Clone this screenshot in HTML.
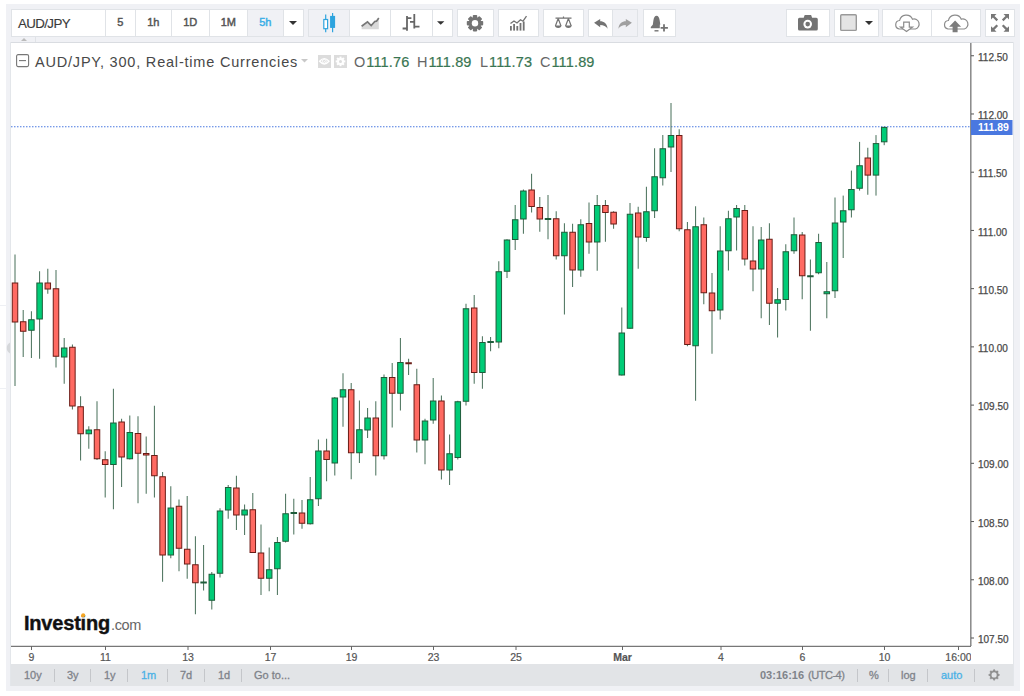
<!DOCTYPE html>
<html><head><meta charset="utf-8">
<style>
html,body{margin:0;padding:0;width:1024px;height:696px;overflow:hidden;background:#fff;font-family:"Liberation Sans",sans-serif;}
.a{position:absolute;}
#wrap{left:6px;top:4px;width:1014px;height:687px;background:#f0f1f5;}
.tb{top:9px;height:28px;background:#fff;border:1px solid #e0e3e7;box-sizing:border-box;}
.sep{top:10px;width:1px;height:26px;background:#e0e3e7;}
.on{background:#f0f1f5;}
.tt{top:8px;height:28px;line-height:28px;font-size:11px;font-weight:normal;color:#555;text-align:center;letter-spacing:-0.1px;padding-left:0.5px;box-sizing:border-box;-webkit-text-stroke:0.45px currentColor;}
#chart{left:11px;top:43px;width:1002px;height:621px;background:#fff;}
#bbar{left:11px;top:664px;width:1002px;height:22px;background:#e2e4e7;}
.bt{top:664px;height:22px;line-height:22px;font-size:11px;color:#7f838a;-webkit-text-stroke:0.3px #7f838a;}
.bs{top:669px;width:1px;height:13px;background:#c4c6ca;}
svg text.pl{font-family:"Liberation Sans",sans-serif;font-size:10px;fill:#4a4a4a;stroke:#4a4a4a;stroke-width:0.25px;}
svg text.tl{font-family:"Liberation Sans",sans-serif;font-size:10.5px;fill:#555;stroke:#555;stroke-width:0.2px;}
.lg{top:52.5px;height:18px;line-height:18px;font-size:14.5px;color:#666;white-space:nowrap;-webkit-text-stroke:0;}
.lv{color:#387552;margin-left:1px;letter-spacing:0.15px;-webkit-text-stroke:0.2px #387552;}
</style></head><body>
<div id="wrap" class="a"></div>
<div class="a" style="left:0;top:305px;width:6px;height:1px;background:#eef0f4;"></div>
<div class="a" style="left:0;top:388px;width:6px;height:1px;background:#eef0f4;"></div>
<svg class="a" style="left:6px;top:342px" width="5" height="12"><path d="M4 0.5C1.5 2 0.8 4 0.8 6S1.5 10 4 11.5z" fill="#d5d7da"/></svg>
<!-- toolbar group 1 -->
<div class="a tb" style="left:11px;width:293px;"></div>
<div class="a on" style="left:247px;top:10px;width:36px;height:26px;"></div>
<div class="a sep" style="left:105px"></div>
<div class="a sep" style="left:135px"></div>
<div class="a sep" style="left:171px"></div>
<div class="a sep" style="left:209px"></div>
<div class="a sep" style="left:247px"></div>
<div class="a sep" style="left:283px"></div>
<div class="a tt" style="left:11px;top:9.5px;width:94px;text-align:left;padding-left:7px;font-size:13.3px;font-weight:normal;letter-spacing:-0.6px;color:#3a3a3a;-webkit-text-stroke:0.15px #3a3a3a;">AUD/JPY</div>
<div class="a tt" style="left:105px;width:30px;">5</div>
<div class="a tt" style="left:135px;width:36px;">1h</div>
<div class="a tt" style="left:171px;width:38px;">1D</div>
<div class="a tt" style="left:209px;width:38px;">1M</div>
<div class="a tt" style="left:247px;width:36px;color:#3aaee6;">5h</div>
<svg class="a" style="left:283px;top:9px" width="20" height="28"><path d="M6 12h8l-4 4z" fill="#333"/></svg>
<!-- group 2 -->
<div class="a tb" style="left:308px;width:145px;"></div>
<div class="a on" style="left:309px;top:10px;width:40px;height:26px;"></div>
<div class="a sep" style="left:349px"></div>
<div class="a sep" style="left:390px"></div>
<div class="a sep" style="left:432px"></div>
<svg class="a" style="left:308px;top:9px" width="41" height="28">
 <g stroke="#2ea4de" fill="none" stroke-width="1.2">
  <line x1="17.7" y1="5.6" x2="17.7" y2="23.2"/><rect x="15.8" y="10.5" width="3.8" height="9.2" fill="#fff"/>
  <line x1="24.6" y1="4.1" x2="24.6" y2="23.2"/><rect x="22.7" y="7.5" width="3.8" height="10.8" fill="#2ea4de"/>
 </g></svg>
<svg class="a" style="left:349px;top:9px" width="41" height="28">
 <path d="M12.6 17.3L18.5 12.9L22.2 16.6L25.8 12.5L27.5 12.2L29.8 9V20.2H12.6z" fill="#d9d9d9"/>
 <path d="M12.6 17.3L18.5 12.9L22.2 16.6L25.8 12.5L27.5 12.2L29.8 9" fill="none" stroke="#777" stroke-width="1.7"/>
</svg>
<svg class="a" style="left:390px;top:9px" width="42" height="28">
 <g stroke="#666" stroke-width="1.8" fill="none">
  <path d="M17 7v14.7M12.6 19.5h4.4M17 9.2h4.4"/>
  <path d="M24.3 5.1v14.4M20 12.9h4.3M24.3 17.7h5.2"/>
 </g></svg>
<svg class="a" style="left:432px;top:9px" width="20" height="28"><path d="M5 12.2h7.4l-3.7 3.6z" fill="#333"/></svg>
<!-- gear -->
<div class="a tb" style="left:457px;width:37px;"></div>
<svg class="a" style="left:457px;top:9px" width="37" height="28">
 <g transform="translate(18,14.2)" fill="#737373">
  <circle r="6.2"/>
  <rect x="-2.2" y="-8.2" width="4.4" height="16.4" rx="0.8"/><rect x="-8.2" y="-2.2" width="16.4" height="4.4" rx="0.8"/>
  <rect x="-2.2" y="-8.2" width="4.4" height="16.4" rx="0.8" transform="rotate(45)"/><rect x="-8.2" y="-2.2" width="16.4" height="4.4" rx="0.8" transform="rotate(45)"/>
  <circle r="3.2" fill="#fff"/>
 </g></svg>
<!-- indicators -->
<div class="a tb" style="left:498px;width:41px;"></div>
<svg class="a" style="left:498px;top:9px" width="41" height="28">
 <g fill="#737373"><rect x="12" y="17" width="1.8" height="4.6"/><rect x="15.2" y="15" width="1.8" height="6.6"/><rect x="18.4" y="17" width="1.8" height="4.6"/><rect x="21.6" y="14" width="1.8" height="7.6"/><rect x="24.8" y="12.5" width="1.8" height="9.1"/></g>
 <path d="M12.5 14.5l3.5-2.5 3 2 3.5-3.3 2.5 1.5 3.5-5" fill="none" stroke="#737373" stroke-width="1.3"/>
</svg>
<!-- scales -->
<div class="a tb" style="left:543px;width:41px;"></div>
<svg class="a" style="left:543px;top:9px" width="41" height="28">
 <g fill="none" stroke="#737373" stroke-width="1.2">
  <path d="M12.5 9.2h16M20.5 7.6v1.6"/>
  <path d="M15.2 9.5l-2.8 7.5M15.2 9.5l2.8 7.5M25.4 9.5l-2.8 7.5M25.4 9.5l2.8 7.5"/>
 </g>
 <path d="M12 16.6h6.4a3.2 2.4 0 0 1-6.4 0zM22.2 16.6h6.4a3.2 2.4 0 0 1-6.4 0z" fill="#737373"/>
</svg>
<!-- undo redo -->
<div class="a tb" style="left:588px;width:50px;"></div>
<div class="a on" style="left:612px;top:10px;width:25px;height:26px;"></div>
<div class="a sep" style="left:612px"></div>
<svg class="a" style="left:588px;top:9px" width="50" height="28">
 <path d="M6.1 13.7L12.2 10V12.3C16 12.3 19 14.5 19.6 19.7C18 17.3 15.5 16.2 12.2 16.1V18.3z" fill="#737373"/>
 <path d="M43.9 13.7L37.8 10V12.3C34 12.3 31 14.5 30.4 19.7C32 17.3 34.5 16.2 37.8 16.1V18.3z" fill="#a0a0a0"/>
</svg>
<!-- alert -->
<div class="a tb" style="left:643px;width:33px;"></div>
<svg class="a" style="left:643px;top:9px" width="33" height="28">
 <path d="M13.6 6.8C15.2 6.8 16.3 8.8 16.7 11.5L17.3 15.8L19.3 18.1V19.2H7.8V18.1L9.8 15.8L10.4 11.5C10.8 8.8 11.9 6.8 13.6 6.8z" fill="#737373"/>
 <path d="M11.5 21.8h4" stroke="#737373" stroke-width="1.4"/>
 <rect x="16.8" y="15.6" width="8.5" height="7" fill="#fff"/>
 <path d="M21 15.3v7.2M17.6 18.8h7.3" stroke="#737373" stroke-width="1.8"/>
</svg>
<!-- camera -->
<div class="a tb" style="left:786px;width:44px;"></div>
<svg class="a" style="left:786px;top:9px" width="44" height="28">
 <path d="M13.5 8.8h4.2l1-2.8h6.4l1 2.8h4.2a1.5 1.5 0 0 1 1.5 1.5v9.7a1.5 1.5 0 0 1-1.5 1.5H13.5a1.5 1.5 0 0 1-1.5-1.5v-9.7a1.5 1.5 0 0 1 1.5-1.5z" fill="#737373"/>
 <circle cx="21.7" cy="15.1" r="4.3" fill="#fff"/><circle cx="21.7" cy="15.1" r="2.3" fill="#737373"/>
</svg>
<!-- layout -->
<div class="a tb" style="left:834px;width:45px;"></div>
<svg class="a" style="left:834px;top:9px" width="45" height="28">
 <rect x="6.7" y="5.8" width="15.6" height="15.6" rx="1" fill="#e4e4e4" stroke="#999" stroke-width="1.4"/>
 <path d="M31 12h8l-4 4z" fill="#333"/>
</svg>
<!-- clouds -->
<div class="a tb" style="left:882px;width:99px;"></div>
<div class="a sep" style="left:931px"></div>
<svg class="a" style="left:882px;top:9px" width="99" height="28">
 <g fill="#fff" stroke="#8c8c8c" stroke-width="1.2">
  <path d="M18 20H17.2A4.3 4.3 0 0 1 17.6 11.5A6.8 6.8 0 0 1 30.5 10.2A4.4 4.4 0 0 1 33.5 20H32Z"/>
  <path d="M21.7 13.2h5.6v5h3.2l-6 4.4-6-4.4h3.2z"/>
  <path d="M66.5 20H66A4.3 4.3 0 0 1 66.4 11.5A6.8 6.8 0 0 1 79.3 10.2A4.4 4.4 0 0 1 82.3 20H81Z"/>
 </g>
 <path d="M70.6 23.3v-5.5h-3.5l6-6.2 6 6.2h-3.5v5.5z" fill="#7c7c7c"/>
</svg>
<!-- fullscreen -->
<div class="a tb" style="left:985px;width:30px;"></div>
<svg class="a" style="left:985px;top:9px" width="30" height="28">
 <g fill="#777">
  <path d="M6 5h5.5l-2 2 3.6 3.6-1.6 1.6-3.6-3.6-1.9 1.9z"/>
  <path d="M24 5h-5.5l2 2-3.6 3.6 1.6 1.6 3.6-3.6 1.9 1.9z"/>
  <path d="M6 22.7h5.5l-2-2 3.6-3.6-1.6-1.6-3.6 3.6-1.9-1.9z"/>
  <path d="M24 22.7h-5.5l2-2-3.6-3.6 1.6-1.6 3.6 3.6 1.9-1.9z"/>
 </g></svg>
<!-- strip -->
<div class="a" style="left:11px;top:42px;width:1002px;height:1px;background:#d9dce1;"></div>
<div class="a" style="left:35px;top:37px;width:1px;height:5px;background:#e0e3e7;"></div>
<svg class="a" style="left:20px;top:37px" width="8" height="5"><path d="M1 4h6L4 1z" fill="#bbb"/></svg>
<!-- chart -->
<div id="chart" class="a"></div>
<div class="a" style="left:10px;top:42px;width:1px;height:644px;background:#e3e6ea;"></div>
<div class="a" style="left:1013px;top:42px;width:1px;height:644px;background:#e3e6ea;"></div>
<svg class="a" style="left:0;top:0" width="1024" height="696">
 <line x1="11" y1="126.75" x2="971" y2="126.75" stroke="#4a78e0" stroke-width="1" stroke-dasharray="1.5 1.5"/>
<line x1="15.00" y1="254.50" x2="15.00" y2="386.00" stroke="#466e58" stroke-width="1"/>
<rect x="12.25" y="283.00" width="5.50" height="39.00" fill="#ff6a62" stroke="#6a1c16" stroke-width="1"/>
<line x1="23.20" y1="310.00" x2="23.20" y2="357.00" stroke="#466e58" stroke-width="1"/>
<rect x="20.45" y="321.75" width="5.50" height="9.50" fill="#ff6a62" stroke="#6a1c16" stroke-width="1"/>
<line x1="31.40" y1="311.25" x2="31.40" y2="358.00" stroke="#466e58" stroke-width="1"/>
<rect x="28.65" y="319.75" width="5.50" height="10.50" fill="#00cc77" stroke="#1e5c3a" stroke-width="1"/>
<line x1="39.60" y1="271.25" x2="39.60" y2="358.75" stroke="#466e58" stroke-width="1"/>
<rect x="36.85" y="283.00" width="5.50" height="36.00" fill="#00cc77" stroke="#1e5c3a" stroke-width="1"/>
<line x1="47.80" y1="268.75" x2="47.80" y2="293.75" stroke="#466e58" stroke-width="1"/>
<rect x="45.05" y="283.00" width="5.50" height="6.00" fill="#ff6a62" stroke="#6a1c16" stroke-width="1"/>
<line x1="56.00" y1="270.00" x2="56.00" y2="367.50" stroke="#466e58" stroke-width="1"/>
<rect x="53.25" y="288.75" width="5.50" height="67.50" fill="#ff6a62" stroke="#6a1c16" stroke-width="1"/>
<line x1="64.20" y1="338.00" x2="64.20" y2="383.75" stroke="#466e58" stroke-width="1"/>
<rect x="61.45" y="348.00" width="5.50" height="9.00" fill="#00cc77" stroke="#1e5c3a" stroke-width="1"/>
<line x1="72.40" y1="344.50" x2="72.40" y2="409.50" stroke="#466e58" stroke-width="1"/>
<rect x="69.65" y="347.25" width="5.50" height="58.75" fill="#ff6a62" stroke="#6a1c16" stroke-width="1"/>
<line x1="80.60" y1="396.25" x2="80.60" y2="460.50" stroke="#466e58" stroke-width="1"/>
<rect x="77.85" y="406.75" width="5.50" height="27.00" fill="#ff6a62" stroke="#6a1c16" stroke-width="1"/>
<line x1="88.80" y1="426.25" x2="88.80" y2="448.75" stroke="#466e58" stroke-width="1"/>
<rect x="86.05" y="430.00" width="5.50" height="3.75" fill="#00cc77" stroke="#1e5c3a" stroke-width="1"/>
<line x1="97.00" y1="401.25" x2="97.00" y2="460.00" stroke="#466e58" stroke-width="1"/>
<rect x="94.25" y="429.75" width="5.50" height="29.00" fill="#ff6a62" stroke="#6a1c16" stroke-width="1"/>
<line x1="105.20" y1="451.25" x2="105.20" y2="497.50" stroke="#466e58" stroke-width="1"/>
<rect x="102.45" y="459.75" width="5.50" height="4.75" fill="#ff6a62" stroke="#6a1c16" stroke-width="1"/>
<line x1="113.40" y1="388.75" x2="113.40" y2="509.25" stroke="#466e58" stroke-width="1"/>
<rect x="110.65" y="423.00" width="5.50" height="41.50" fill="#00cc77" stroke="#1e5c3a" stroke-width="1"/>
<line x1="121.60" y1="418.75" x2="121.60" y2="487.00" stroke="#466e58" stroke-width="1"/>
<rect x="118.85" y="422.00" width="5.50" height="35.00" fill="#ff6a62" stroke="#6a1c16" stroke-width="1"/>
<line x1="129.80" y1="415.50" x2="129.80" y2="459.50" stroke="#466e58" stroke-width="1"/>
<rect x="127.05" y="432.50" width="5.50" height="26.25" fill="#00cc77" stroke="#1e5c3a" stroke-width="1"/>
<line x1="138.00" y1="416.25" x2="138.00" y2="503.25" stroke="#466e58" stroke-width="1"/>
<rect x="135.25" y="433.50" width="5.50" height="19.75" fill="#ff6a62" stroke="#6a1c16" stroke-width="1"/>
<line x1="146.20" y1="436.50" x2="146.20" y2="493.75" stroke="#466e58" stroke-width="1"/>
<rect x="143.45" y="453.50" width="5.50" height="1.50" fill="#ff6a62" stroke="#6a1c16" stroke-width="1"/>
<line x1="154.40" y1="405.75" x2="154.40" y2="497.50" stroke="#466e58" stroke-width="1"/>
<rect x="151.65" y="455.50" width="5.50" height="20.25" fill="#ff6a62" stroke="#6a1c16" stroke-width="1"/>
<line x1="162.60" y1="472.00" x2="162.60" y2="581.75" stroke="#466e58" stroke-width="1"/>
<rect x="159.85" y="476.75" width="5.50" height="78.25" fill="#ff6a62" stroke="#6a1c16" stroke-width="1"/>
<line x1="170.80" y1="486.25" x2="170.80" y2="558.25" stroke="#466e58" stroke-width="1"/>
<rect x="168.05" y="508.00" width="5.50" height="47.00" fill="#00cc77" stroke="#1e5c3a" stroke-width="1"/>
<line x1="179.00" y1="499.50" x2="179.00" y2="571.25" stroke="#466e58" stroke-width="1"/>
<rect x="176.25" y="506.25" width="5.50" height="42.00" fill="#ff6a62" stroke="#6a1c16" stroke-width="1"/>
<line x1="187.20" y1="496.00" x2="187.20" y2="578.75" stroke="#466e58" stroke-width="1"/>
<rect x="184.45" y="549.25" width="5.50" height="14.75" fill="#ff6a62" stroke="#6a1c16" stroke-width="1"/>
<line x1="195.40" y1="536.25" x2="195.40" y2="614.25" stroke="#466e58" stroke-width="1"/>
<rect x="192.65" y="564.75" width="5.50" height="18.00" fill="#ff6a62" stroke="#6a1c16" stroke-width="1"/>
<line x1="203.60" y1="545.00" x2="203.60" y2="590.50" stroke="#466e58" stroke-width="1"/>
<line x1="200.35" y1="582.50" x2="206.85" y2="582.50" stroke="#1e5c3a" stroke-width="2"/>
<line x1="211.80" y1="572.00" x2="211.80" y2="609.50" stroke="#466e58" stroke-width="1"/>
<rect x="209.05" y="574.25" width="5.50" height="26.00" fill="#00cc77" stroke="#1e5c3a" stroke-width="1"/>
<line x1="220.00" y1="508.25" x2="220.00" y2="577.50" stroke="#466e58" stroke-width="1"/>
<rect x="217.25" y="511.00" width="5.50" height="62.25" fill="#00cc77" stroke="#1e5c3a" stroke-width="1"/>
<line x1="228.20" y1="485.00" x2="228.20" y2="518.75" stroke="#466e58" stroke-width="1"/>
<rect x="225.45" y="487.50" width="5.50" height="22.50" fill="#00cc77" stroke="#1e5c3a" stroke-width="1"/>
<line x1="236.40" y1="475.75" x2="236.40" y2="530.00" stroke="#466e58" stroke-width="1"/>
<rect x="233.65" y="488.00" width="5.50" height="27.00" fill="#ff6a62" stroke="#6a1c16" stroke-width="1"/>
<line x1="244.60" y1="504.50" x2="244.60" y2="535.00" stroke="#466e58" stroke-width="1"/>
<rect x="241.85" y="510.00" width="5.50" height="5.00" fill="#00cc77" stroke="#1e5c3a" stroke-width="1"/>
<line x1="252.80" y1="493.00" x2="252.80" y2="553.00" stroke="#466e58" stroke-width="1"/>
<rect x="250.05" y="509.75" width="5.50" height="42.75" fill="#ff6a62" stroke="#6a1c16" stroke-width="1"/>
<line x1="261.00" y1="524.50" x2="261.00" y2="595.00" stroke="#466e58" stroke-width="1"/>
<rect x="258.25" y="553.00" width="5.50" height="25.25" fill="#ff6a62" stroke="#6a1c16" stroke-width="1"/>
<line x1="269.20" y1="547.50" x2="269.20" y2="591.25" stroke="#466e58" stroke-width="1"/>
<rect x="266.45" y="569.75" width="5.50" height="8.50" fill="#00cc77" stroke="#1e5c3a" stroke-width="1"/>
<line x1="277.40" y1="537.00" x2="277.40" y2="595.00" stroke="#466e58" stroke-width="1"/>
<rect x="274.65" y="542.50" width="5.50" height="26.25" fill="#00cc77" stroke="#1e5c3a" stroke-width="1"/>
<line x1="285.60" y1="493.75" x2="285.60" y2="542.50" stroke="#466e58" stroke-width="1"/>
<rect x="282.85" y="513.75" width="5.50" height="27.50" fill="#00cc77" stroke="#1e5c3a" stroke-width="1"/>
<line x1="293.80" y1="498.75" x2="293.80" y2="534.50" stroke="#466e58" stroke-width="1"/>
<line x1="290.55" y1="513.00" x2="297.05" y2="513.00" stroke="#1e5c3a" stroke-width="2"/>
<line x1="302.00" y1="500.00" x2="302.00" y2="528.75" stroke="#466e58" stroke-width="1"/>
<rect x="299.25" y="513.00" width="5.50" height="10.25" fill="#ff6a62" stroke="#6a1c16" stroke-width="1"/>
<line x1="310.20" y1="477.00" x2="310.20" y2="524.50" stroke="#466e58" stroke-width="1"/>
<rect x="307.45" y="499.75" width="5.50" height="24.00" fill="#00cc77" stroke="#1e5c3a" stroke-width="1"/>
<line x1="318.40" y1="439.50" x2="318.40" y2="506.00" stroke="#466e58" stroke-width="1"/>
<rect x="315.65" y="451.00" width="5.50" height="47.75" fill="#00cc77" stroke="#1e5c3a" stroke-width="1"/>
<line x1="326.60" y1="438.75" x2="326.60" y2="481.25" stroke="#466e58" stroke-width="1"/>
<rect x="323.85" y="451.00" width="5.50" height="8.50" fill="#ff6a62" stroke="#6a1c16" stroke-width="1"/>
<line x1="334.80" y1="397.00" x2="334.80" y2="475.50" stroke="#466e58" stroke-width="1"/>
<rect x="332.05" y="398.00" width="5.50" height="65.00" fill="#00cc77" stroke="#1e5c3a" stroke-width="1"/>
<line x1="343.00" y1="373.25" x2="343.00" y2="426.75" stroke="#466e58" stroke-width="1"/>
<rect x="340.25" y="389.75" width="5.50" height="7.25" fill="#00cc77" stroke="#1e5c3a" stroke-width="1"/>
<line x1="351.20" y1="383.00" x2="351.20" y2="479.25" stroke="#466e58" stroke-width="1"/>
<rect x="348.45" y="389.75" width="5.50" height="63.00" fill="#ff6a62" stroke="#6a1c16" stroke-width="1"/>
<line x1="359.40" y1="400.50" x2="359.40" y2="463.00" stroke="#466e58" stroke-width="1"/>
<rect x="356.65" y="429.75" width="5.50" height="23.00" fill="#00cc77" stroke="#1e5c3a" stroke-width="1"/>
<line x1="367.60" y1="408.00" x2="367.60" y2="438.00" stroke="#466e58" stroke-width="1"/>
<rect x="364.85" y="418.00" width="5.50" height="12.00" fill="#00cc77" stroke="#1e5c3a" stroke-width="1"/>
<line x1="375.80" y1="401.25" x2="375.80" y2="475.50" stroke="#466e58" stroke-width="1"/>
<rect x="373.05" y="418.00" width="5.50" height="37.75" fill="#ff6a62" stroke="#6a1c16" stroke-width="1"/>
<line x1="384.00" y1="374.50" x2="384.00" y2="459.50" stroke="#466e58" stroke-width="1"/>
<rect x="381.25" y="377.50" width="5.50" height="78.25" fill="#00cc77" stroke="#1e5c3a" stroke-width="1"/>
<line x1="392.20" y1="363.00" x2="392.20" y2="427.50" stroke="#466e58" stroke-width="1"/>
<rect x="389.45" y="377.50" width="5.50" height="15.75" fill="#ff6a62" stroke="#6a1c16" stroke-width="1"/>
<line x1="400.40" y1="338.00" x2="400.40" y2="410.50" stroke="#466e58" stroke-width="1"/>
<rect x="397.65" y="362.50" width="5.50" height="30.75" fill="#00cc77" stroke="#1e5c3a" stroke-width="1"/>
<line x1="408.60" y1="358.75" x2="408.60" y2="375.00" stroke="#466e58" stroke-width="1"/>
<line x1="405.35" y1="363.25" x2="411.85" y2="363.25" stroke="#6a1c16" stroke-width="2"/>
<line x1="416.80" y1="368.75" x2="416.80" y2="452.50" stroke="#466e58" stroke-width="1"/>
<rect x="414.05" y="384.75" width="5.50" height="55.25" fill="#ff6a62" stroke="#6a1c16" stroke-width="1"/>
<line x1="425.00" y1="418.75" x2="425.00" y2="464.25" stroke="#466e58" stroke-width="1"/>
<rect x="422.25" y="421.00" width="5.50" height="19.00" fill="#00cc77" stroke="#1e5c3a" stroke-width="1"/>
<line x1="433.20" y1="378.00" x2="433.20" y2="423.75" stroke="#466e58" stroke-width="1"/>
<rect x="430.45" y="401.00" width="5.50" height="19.00" fill="#00cc77" stroke="#1e5c3a" stroke-width="1"/>
<line x1="441.40" y1="395.50" x2="441.40" y2="479.50" stroke="#466e58" stroke-width="1"/>
<rect x="438.65" y="401.00" width="5.50" height="69.00" fill="#ff6a62" stroke="#6a1c16" stroke-width="1"/>
<line x1="449.60" y1="434.50" x2="449.60" y2="485.00" stroke="#466e58" stroke-width="1"/>
<rect x="446.85" y="453.75" width="5.50" height="16.25" fill="#00cc77" stroke="#1e5c3a" stroke-width="1"/>
<line x1="457.80" y1="400.75" x2="457.80" y2="459.50" stroke="#466e58" stroke-width="1"/>
<rect x="455.05" y="401.75" width="5.50" height="55.75" fill="#00cc77" stroke="#1e5c3a" stroke-width="1"/>
<line x1="466.00" y1="303.75" x2="466.00" y2="405.50" stroke="#466e58" stroke-width="1"/>
<rect x="463.25" y="308.75" width="5.50" height="92.50" fill="#00cc77" stroke="#1e5c3a" stroke-width="1"/>
<line x1="474.20" y1="295.00" x2="474.20" y2="383.75" stroke="#466e58" stroke-width="1"/>
<rect x="471.45" y="308.00" width="5.50" height="64.50" fill="#ff6a62" stroke="#6a1c16" stroke-width="1"/>
<line x1="482.40" y1="336.25" x2="482.40" y2="388.75" stroke="#466e58" stroke-width="1"/>
<rect x="479.65" y="342.50" width="5.50" height="30.00" fill="#00cc77" stroke="#1e5c3a" stroke-width="1"/>
<line x1="490.60" y1="337.00" x2="490.60" y2="351.25" stroke="#466e58" stroke-width="1"/>
<line x1="487.35" y1="342.00" x2="493.85" y2="342.00" stroke="#1e5c3a" stroke-width="2"/>
<line x1="498.80" y1="261.25" x2="498.80" y2="348.25" stroke="#466e58" stroke-width="1"/>
<rect x="496.05" y="271.75" width="5.50" height="70.25" fill="#00cc77" stroke="#1e5c3a" stroke-width="1"/>
<line x1="507.00" y1="239.25" x2="507.00" y2="278.00" stroke="#466e58" stroke-width="1"/>
<rect x="504.25" y="240.00" width="5.50" height="31.25" fill="#00cc77" stroke="#1e5c3a" stroke-width="1"/>
<line x1="515.20" y1="205.00" x2="515.20" y2="250.00" stroke="#466e58" stroke-width="1"/>
<rect x="512.45" y="219.75" width="5.50" height="19.75" fill="#00cc77" stroke="#1e5c3a" stroke-width="1"/>
<line x1="523.40" y1="189.50" x2="523.40" y2="233.75" stroke="#466e58" stroke-width="1"/>
<rect x="520.65" y="191.00" width="5.50" height="28.00" fill="#00cc77" stroke="#1e5c3a" stroke-width="1"/>
<line x1="531.60" y1="173.75" x2="531.60" y2="212.50" stroke="#466e58" stroke-width="1"/>
<rect x="528.85" y="190.00" width="5.50" height="16.50" fill="#ff6a62" stroke="#6a1c16" stroke-width="1"/>
<line x1="539.80" y1="197.00" x2="539.80" y2="231.75" stroke="#466e58" stroke-width="1"/>
<rect x="537.05" y="207.50" width="5.50" height="11.50" fill="#ff6a62" stroke="#6a1c16" stroke-width="1"/>
<line x1="548.00" y1="195.00" x2="548.00" y2="239.25" stroke="#466e58" stroke-width="1"/>
<line x1="544.75" y1="219.00" x2="551.25" y2="219.00" stroke="#1e5c3a" stroke-width="2"/>
<line x1="556.20" y1="211.25" x2="556.20" y2="259.50" stroke="#466e58" stroke-width="1"/>
<rect x="553.45" y="218.75" width="5.50" height="37.00" fill="#ff6a62" stroke="#6a1c16" stroke-width="1"/>
<line x1="564.40" y1="223.25" x2="564.40" y2="314.50" stroke="#466e58" stroke-width="1"/>
<rect x="561.65" y="232.25" width="5.50" height="23.50" fill="#00cc77" stroke="#1e5c3a" stroke-width="1"/>
<line x1="572.60" y1="223.75" x2="572.60" y2="287.00" stroke="#466e58" stroke-width="1"/>
<rect x="569.85" y="232.25" width="5.50" height="37.75" fill="#ff6a62" stroke="#6a1c16" stroke-width="1"/>
<line x1="580.80" y1="219.25" x2="580.80" y2="276.75" stroke="#466e58" stroke-width="1"/>
<rect x="578.05" y="224.75" width="5.50" height="45.25" fill="#00cc77" stroke="#1e5c3a" stroke-width="1"/>
<line x1="589.00" y1="202.50" x2="589.00" y2="253.75" stroke="#466e58" stroke-width="1"/>
<rect x="586.25" y="223.50" width="5.50" height="18.50" fill="#ff6a62" stroke="#6a1c16" stroke-width="1"/>
<line x1="597.20" y1="195.00" x2="597.20" y2="270.75" stroke="#466e58" stroke-width="1"/>
<rect x="594.45" y="205.50" width="5.50" height="36.50" fill="#00cc77" stroke="#1e5c3a" stroke-width="1"/>
<line x1="605.40" y1="200.00" x2="605.40" y2="241.75" stroke="#466e58" stroke-width="1"/>
<rect x="602.65" y="205.50" width="5.50" height="7.00" fill="#ff6a62" stroke="#6a1c16" stroke-width="1"/>
<line x1="613.60" y1="211.25" x2="613.60" y2="228.75" stroke="#466e58" stroke-width="1"/>
<rect x="610.85" y="212.25" width="5.50" height="11.75" fill="#ff6a62" stroke="#6a1c16" stroke-width="1"/>
<line x1="621.80" y1="307.50" x2="621.80" y2="375.50" stroke="#466e58" stroke-width="1"/>
<rect x="619.05" y="333.00" width="5.50" height="42.00" fill="#00cc77" stroke="#1e5c3a" stroke-width="1"/>
<line x1="630.00" y1="203.00" x2="630.00" y2="328.75" stroke="#466e58" stroke-width="1"/>
<rect x="627.25" y="214.25" width="5.50" height="114.00" fill="#00cc77" stroke="#1e5c3a" stroke-width="1"/>
<line x1="638.20" y1="206.75" x2="638.20" y2="268.75" stroke="#466e58" stroke-width="1"/>
<rect x="635.45" y="213.00" width="5.50" height="24.00" fill="#ff6a62" stroke="#6a1c16" stroke-width="1"/>
<line x1="646.40" y1="186.75" x2="646.40" y2="241.75" stroke="#466e58" stroke-width="1"/>
<rect x="643.65" y="211.75" width="5.50" height="25.75" fill="#00cc77" stroke="#1e5c3a" stroke-width="1"/>
<line x1="654.60" y1="148.25" x2="654.60" y2="218.00" stroke="#466e58" stroke-width="1"/>
<rect x="651.85" y="176.75" width="5.50" height="34.00" fill="#00cc77" stroke="#1e5c3a" stroke-width="1"/>
<line x1="662.80" y1="135.00" x2="662.80" y2="185.50" stroke="#466e58" stroke-width="1"/>
<rect x="660.05" y="148.75" width="5.50" height="29.00" fill="#00cc77" stroke="#1e5c3a" stroke-width="1"/>
<line x1="671.00" y1="103.00" x2="671.00" y2="172.00" stroke="#466e58" stroke-width="1"/>
<rect x="668.25" y="135.50" width="5.50" height="11.50" fill="#00cc77" stroke="#1e5c3a" stroke-width="1"/>
<line x1="679.20" y1="129.25" x2="679.20" y2="231.25" stroke="#466e58" stroke-width="1"/>
<rect x="676.45" y="135.50" width="5.50" height="93.25" fill="#ff6a62" stroke="#6a1c16" stroke-width="1"/>
<line x1="687.40" y1="222.00" x2="687.40" y2="346.25" stroke="#466e58" stroke-width="1"/>
<rect x="684.65" y="229.75" width="5.50" height="114.75" fill="#ff6a62" stroke="#6a1c16" stroke-width="1"/>
<line x1="695.60" y1="206.25" x2="695.60" y2="400.75" stroke="#466e58" stroke-width="1"/>
<rect x="692.85" y="226.75" width="5.50" height="119.00" fill="#00cc77" stroke="#1e5c3a" stroke-width="1"/>
<line x1="703.80" y1="217.50" x2="703.80" y2="304.25" stroke="#466e58" stroke-width="1"/>
<rect x="701.05" y="224.75" width="5.50" height="68.00" fill="#ff6a62" stroke="#6a1c16" stroke-width="1"/>
<line x1="712.00" y1="273.00" x2="712.00" y2="353.75" stroke="#466e58" stroke-width="1"/>
<rect x="709.25" y="293.00" width="5.50" height="17.75" fill="#ff6a62" stroke="#6a1c16" stroke-width="1"/>
<line x1="720.20" y1="226.25" x2="720.20" y2="319.50" stroke="#466e58" stroke-width="1"/>
<rect x="717.45" y="251.00" width="5.50" height="59.00" fill="#00cc77" stroke="#1e5c3a" stroke-width="1"/>
<line x1="728.40" y1="210.75" x2="728.40" y2="270.50" stroke="#466e58" stroke-width="1"/>
<rect x="725.65" y="218.75" width="5.50" height="32.00" fill="#00cc77" stroke="#1e5c3a" stroke-width="1"/>
<line x1="736.60" y1="205.00" x2="736.60" y2="250.50" stroke="#466e58" stroke-width="1"/>
<rect x="733.85" y="208.50" width="5.50" height="8.50" fill="#00cc77" stroke="#1e5c3a" stroke-width="1"/>
<line x1="744.80" y1="205.00" x2="744.80" y2="265.50" stroke="#466e58" stroke-width="1"/>
<rect x="742.05" y="210.50" width="5.50" height="48.50" fill="#ff6a62" stroke="#6a1c16" stroke-width="1"/>
<line x1="753.00" y1="226.25" x2="753.00" y2="291.25" stroke="#466e58" stroke-width="1"/>
<rect x="750.25" y="261.00" width="5.50" height="8.00" fill="#ff6a62" stroke="#6a1c16" stroke-width="1"/>
<line x1="761.20" y1="227.00" x2="761.20" y2="318.25" stroke="#466e58" stroke-width="1"/>
<rect x="758.45" y="240.00" width="5.50" height="29.00" fill="#00cc77" stroke="#1e5c3a" stroke-width="1"/>
<line x1="769.40" y1="223.25" x2="769.40" y2="325.00" stroke="#466e58" stroke-width="1"/>
<rect x="766.65" y="239.25" width="5.50" height="64.00" fill="#ff6a62" stroke="#6a1c16" stroke-width="1"/>
<line x1="777.60" y1="288.00" x2="777.60" y2="337.50" stroke="#466e58" stroke-width="1"/>
<rect x="774.85" y="299.75" width="5.50" height="3.50" fill="#00cc77" stroke="#1e5c3a" stroke-width="1"/>
<line x1="785.80" y1="244.25" x2="785.80" y2="310.50" stroke="#466e58" stroke-width="1"/>
<rect x="783.05" y="251.75" width="5.50" height="47.75" fill="#00cc77" stroke="#1e5c3a" stroke-width="1"/>
<line x1="794.00" y1="217.50" x2="794.00" y2="253.75" stroke="#466e58" stroke-width="1"/>
<rect x="791.25" y="234.75" width="5.50" height="16.00" fill="#00cc77" stroke="#1e5c3a" stroke-width="1"/>
<line x1="802.20" y1="232.00" x2="802.20" y2="299.25" stroke="#466e58" stroke-width="1"/>
<rect x="799.45" y="235.00" width="5.50" height="40.75" fill="#ff6a62" stroke="#6a1c16" stroke-width="1"/>
<line x1="810.40" y1="259.50" x2="810.40" y2="330.75" stroke="#466e58" stroke-width="1"/>
<line x1="807.15" y1="276.25" x2="813.65" y2="276.25" stroke="#1e5c3a" stroke-width="2"/>
<line x1="818.60" y1="233.75" x2="818.60" y2="274.25" stroke="#466e58" stroke-width="1"/>
<rect x="815.85" y="242.50" width="5.50" height="30.25" fill="#00cc77" stroke="#1e5c3a" stroke-width="1"/>
<line x1="826.80" y1="262.00" x2="826.80" y2="318.25" stroke="#466e58" stroke-width="1"/>
<rect x="824.05" y="291.75" width="5.50" height="2.00" fill="#00cc77" stroke="#1e5c3a" stroke-width="1"/>
<line x1="835.00" y1="197.50" x2="835.00" y2="298.00" stroke="#466e58" stroke-width="1"/>
<rect x="832.25" y="223.00" width="5.50" height="67.75" fill="#00cc77" stroke="#1e5c3a" stroke-width="1"/>
<line x1="843.20" y1="195.60" x2="843.20" y2="258.00" stroke="#466e58" stroke-width="1"/>
<rect x="840.45" y="210.75" width="5.50" height="11.25" fill="#00cc77" stroke="#1e5c3a" stroke-width="1"/>
<line x1="851.40" y1="170.60" x2="851.40" y2="217.50" stroke="#466e58" stroke-width="1"/>
<rect x="848.65" y="189.50" width="5.50" height="20.25" fill="#00cc77" stroke="#1e5c3a" stroke-width="1"/>
<line x1="859.60" y1="141.90" x2="859.60" y2="190.60" stroke="#466e58" stroke-width="1"/>
<rect x="856.85" y="165.75" width="5.50" height="22.50" fill="#00cc77" stroke="#1e5c3a" stroke-width="1"/>
<line x1="867.80" y1="147.75" x2="867.80" y2="194.75" stroke="#466e58" stroke-width="1"/>
<rect x="865.05" y="158.00" width="5.50" height="17.10" fill="#ff6a62" stroke="#6a1c16" stroke-width="1"/>
<line x1="876.00" y1="135.10" x2="876.00" y2="195.60" stroke="#466e58" stroke-width="1"/>
<rect x="873.25" y="143.60" width="5.50" height="31.50" fill="#00cc77" stroke="#1e5c3a" stroke-width="1"/>
<line x1="884.20" y1="126.70" x2="884.20" y2="145.20" stroke="#466e58" stroke-width="1"/>
<rect x="881.45" y="127.40" width="5.50" height="14.40" fill="#00cc77" stroke="#1e5c3a" stroke-width="1"/>
 <line x1="970.8" y1="43" x2="970.8" y2="647" stroke="#888" stroke-width="1.5"/>
 <line x1="11" y1="646.4" x2="971.5" y2="646.4" stroke="#777" stroke-width="1.4"/>
<line x1="971" y1="55.75" x2="974" y2="55.75" stroke="#555" stroke-width="1"/>
<text x="978" y="60.85" class="pl">112.50</text>
<line x1="971" y1="113.97" x2="974" y2="113.97" stroke="#555" stroke-width="1"/>
<text x="978" y="119.07" class="pl">112.00</text>
<line x1="971" y1="172.20" x2="974" y2="172.20" stroke="#555" stroke-width="1"/>
<text x="978" y="177.30" class="pl">111.50</text>
<line x1="971" y1="230.43" x2="974" y2="230.43" stroke="#555" stroke-width="1"/>
<text x="978" y="235.53" class="pl">111.00</text>
<line x1="971" y1="288.65" x2="974" y2="288.65" stroke="#555" stroke-width="1"/>
<text x="978" y="293.75" class="pl">110.50</text>
<line x1="971" y1="346.88" x2="974" y2="346.88" stroke="#555" stroke-width="1"/>
<text x="978" y="351.98" class="pl">110.00</text>
<line x1="971" y1="405.10" x2="974" y2="405.10" stroke="#555" stroke-width="1"/>
<text x="978" y="410.20" class="pl">109.50</text>
<line x1="971" y1="463.32" x2="974" y2="463.32" stroke="#555" stroke-width="1"/>
<text x="978" y="468.43" class="pl">109.00</text>
<line x1="971" y1="521.55" x2="974" y2="521.55" stroke="#555" stroke-width="1"/>
<text x="978" y="526.65" class="pl">108.50</text>
<line x1="971" y1="579.77" x2="974" y2="579.77" stroke="#555" stroke-width="1"/>
<text x="978" y="584.88" class="pl">108.00</text>
<line x1="971" y1="638.00" x2="974" y2="638.00" stroke="#555" stroke-width="1"/>
<text x="978" y="643.10" class="pl">107.50</text>
<line x1="31.5" y1="646" x2="31.5" y2="650" stroke="#666" stroke-width="1"/>
<text x="31.5" y="661" class="tl" text-anchor="middle">9</text>
<line x1="105.5" y1="646" x2="105.5" y2="650" stroke="#666" stroke-width="1"/>
<text x="105.5" y="661" class="tl" text-anchor="middle">11</text>
<line x1="188" y1="646" x2="188" y2="650" stroke="#666" stroke-width="1"/>
<text x="188" y="661" class="tl" text-anchor="middle">13</text>
<line x1="270.5" y1="646" x2="270.5" y2="650" stroke="#666" stroke-width="1"/>
<text x="270.5" y="661" class="tl" text-anchor="middle">17</text>
<line x1="351.5" y1="646" x2="351.5" y2="650" stroke="#666" stroke-width="1"/>
<text x="351.5" y="661" class="tl" text-anchor="middle">19</text>
<line x1="433.5" y1="646" x2="433.5" y2="650" stroke="#666" stroke-width="1"/>
<text x="433.5" y="661" class="tl" text-anchor="middle">23</text>
<line x1="516" y1="646" x2="516" y2="650" stroke="#666" stroke-width="1"/>
<text x="516" y="661" class="tl" text-anchor="middle">25</text>
<line x1="622.5" y1="646" x2="622.5" y2="650" stroke="#666" stroke-width="1"/>
<text x="622.5" y="661" class="tl" text-anchor="middle" font-weight="bold">Mar</text>
<line x1="721" y1="646" x2="721" y2="650" stroke="#666" stroke-width="1"/>
<text x="721" y="661" class="tl" text-anchor="middle">4</text>
<line x1="802.5" y1="646" x2="802.5" y2="650" stroke="#666" stroke-width="1"/>
<text x="802.5" y="661" class="tl" text-anchor="middle">6</text>
<line x1="884.5" y1="646" x2="884.5" y2="650" stroke="#666" stroke-width="1"/>
<text x="884.5" y="661" class="tl" text-anchor="middle">10</text>
<line x1="958.5" y1="646" x2="958.5" y2="650" stroke="#666" stroke-width="1"/>
<text x="958.5" y="661" class="tl" text-anchor="middle">16:00</text>
 <rect x="971" y="120" width="41.5" height="15" fill="#4a78e0"/>
 <text x="978" y="131.3" font-family="Liberation Sans" font-size="10.5" font-weight="bold" fill="#fff">111.89</text>
</svg>
<div class="a" style="left:971px;top:646px;width:42px;height:18px;background:#fff"></div>
<!-- legend -->
<svg class="a" style="left:16px;top:54px" width="14" height="14"><rect x="0.6" y="0.6" width="12" height="12" rx="1.5" fill="none" stroke="#777" stroke-width="1.1"/><path d="M3 6.6h7" stroke="#777" stroke-width="1.1"/></svg>
<div class="a lg" style="left:35px;letter-spacing:0.8px;color:#484848;-webkit-text-stroke:0;">AUD/JPY, 300, Real-time Currencies</div>
<svg class="a" style="left:300px;top:58px" width="10" height="6"><path d="M1 1h7L4.5 4.5z" fill="#c8c8c8"/></svg>
<svg class="a" style="left:318px;top:55px" width="30" height="14">
 <rect x="0" y="0" width="13" height="13" fill="#dcdcdc"/>
 <path d="M1.6 6.3Q6.3 0.9 11 6.3Q6.3 11.7 1.6 6.3z" fill="none" stroke="#fff" stroke-width="1.3"/><circle cx="6.3" cy="6.3" r="1.9" fill="none" stroke="#fff" stroke-width="1"/><circle cx="6.3" cy="6.3" r="0.6" fill="#fff"/>
 <rect x="16" y="0" width="13" height="13" fill="#dcdcdc"/>
 <g transform="translate(22.5,6.4)" fill="#fff"><circle r="3.5"/><rect x="-1" y="-4.8" width="2" height="9.6"/><rect x="-4.8" y="-1" width="9.6" height="2"/><rect x="-1" y="-4.8" width="2" height="9.6" transform="rotate(45)"/><rect x="-4.8" y="-1" width="9.6" height="2" transform="rotate(45)"/><circle r="1.5" fill="#dcdcdc"/></g>
</svg>
<div class="a lg" style="left:354px;">O<span class="lv">111.76</span></div>
<div class="a lg" style="left:417px;">H<span class="lv">111.89</span></div>
<div class="a lg" style="left:480px;">L<span class="lv">111.73</span></div>
<div class="a lg" style="left:540px;">C<span class="lv">111.89</span></div>
<!-- investing logo -->
<div class="a" style="left:24px;top:611px;height:24px;line-height:24px;font-size:20px;font-weight:bold;color:#111;letter-spacing:-0.2px;-webkit-text-stroke:0.4px #111;">Investing<span style="font-size:14.5px;font-weight:normal;color:#666;letter-spacing:-0.4px;-webkit-text-stroke:0;margin-left:1px;">.com</span></div>
<svg class="a" style="left:78px;top:610px" width="10" height="10"><circle cx="5.2" cy="5.3" r="2" fill="#f5a623"/></svg>
<!-- bottom bar -->
<div id="bbar" class="a"></div>
<div class="a bt" style="left:24px;">10y</div>
<div class="a bs" style="left:54px"></div>
<div class="a bt" style="left:67px;">3y</div>
<div class="a bs" style="left:90px"></div>
<div class="a bt" style="left:104px;">1y</div>
<div class="a bs" style="left:127px"></div>
<div class="a bt" style="left:141px;color:#4bb1e5;-webkit-text-stroke:0.3px #4bb1e5;">1m</div>
<div class="a bs" style="left:167px"></div>
<div class="a bt" style="left:180px;">7d</div>
<div class="a bs" style="left:204px"></div>
<div class="a bt" style="left:218px;">1d</div>
<div class="a bs" style="left:241px"></div>
<div class="a bt" style="left:254px;">Go to...</div>
<div class="a bt" style="left:760px;"><b style="-webkit-text-stroke:0">03:16:16</b> <span style="letter-spacing:-0.5px;margin-left:1px">(UTC-4)</span></div>
<div class="a bs" style="left:857px"></div>
<div class="a bt" style="left:869px;">%</div>
<div class="a bs" style="left:888px"></div>
<div class="a bt" style="left:901px;">log</div>
<div class="a bs" style="left:927px"></div>
<div class="a bt" style="left:941px;color:#4bb1e5;-webkit-text-stroke:0.3px #4bb1e5;">auto</div>
<div class="a bs" style="left:974px"></div>
<svg class="a" style="left:986px;top:667px" width="16" height="16">
 <g transform="translate(8.1,7.9)">
  <path d="M0.00 -5.60 L1.49 -3.60 L3.96 -3.96 L3.60 -1.49 L5.60 0.00 L3.60 1.49 L3.96 3.96 L1.49 3.60 L0.00 5.60 L-1.49 3.60 L-3.96 3.96 L-3.60 1.49 L-5.60 0.00 L-3.60 -1.49 L-3.96 -3.96 L-1.49 -3.60Z" fill="#8c8c8c" stroke="#8c8c8c" stroke-width="0.6" stroke-linejoin="round"/>
  <circle r="2.6" fill="#e2e4e7"/>
 </g></svg>
</body></html>
